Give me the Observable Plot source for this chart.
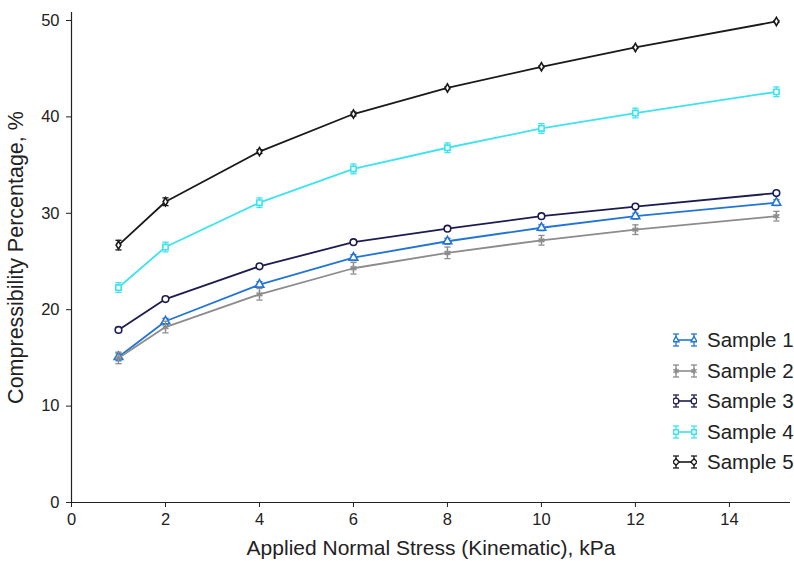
<!DOCTYPE html>
<html>
<head>
<meta charset="utf-8">
<script src="https://cdn.jsdelivr.net/npm/d3@7"></script>
<script src="https://cdn.jsdelivr.net/npm/@observablehq/plot@0.6"></script>
<style>
  html, body { margin: 0; padding: 0; background: #fff; }
  #wrap { position: relative; width: 794px; height: 561px; font-family: "Liberation Sans", Arial, sans-serif; overflow: hidden; }
  #legend { position: absolute; left: 673px; top: 325px; }
  .item { display: flex; align-items: center; height: 30.5px; font-size: 20.5px; color: #222; white-space: nowrap; }
  .item svg { margin-right: 10px; }
</style>
</head>
<body>
<div id="wrap"><div id="legend"></div></div>
<script>
const stress = [1, 2, 4, 6, 8, 10, 12, 15];
const seriesNames = ["Sample 1", "Sample 2", "Sample 3", "Sample 4", "Sample 5"];
const sample1 = [15.1, 18.8, 22.6, 25.4, 27.1, 28.5, 29.7, 31.1];
const sample2 = [15.0, 18.2, 21.6, 24.3, 25.9, 27.2, 28.3, 29.7];
const sample3 = [17.9, 21.1, 24.5, 27.0, 28.4, 29.7, 30.7, 32.1];
const sample4 = [22.3, 26.5, 31.1, 34.6, 36.8, 38.8, 40.4, 42.6];
const sample5 = [26.7, 31.2, 36.4, 40.3, 43.0, 45.2, 47.2, 49.9];
const err1 = [0.4, 0.3, 0.3, 0.3, 0.3, 0.3, 0.3, 0.3];
const err2 = [0.6, 0.6, 0.6, 0.6, 0.6, 0.5, 0.5, 0.5];
const err3 = [0.1, 0.1, 0.1, 0.1, 0.1, 0.1, 0.1, 0.1];
const err4 = [0.5, 0.5, 0.5, 0.5, 0.5, 0.5, 0.5, 0.5];
const err5 = [0.5, 0.4, 0.2, 0.2, 0.1, 0.1, 0.1, 0.1];
const xTicks = [0, 2, 4, 6, 8, 10, 12, 14];
const yTicks = [0, 10, 20, 30, 40, 50];
const colors = ["#2274d6", "#8c8c8c", "#1c1c50", "#3de3ef", "#1a1a1a"];
const symbols = ["triangle", "asterisk", "circle", "square", "diamond"];
const markerR = [3.2, 3.2, 3.3, 3.0, 2.5];

const values = [sample1, sample2, sample3, sample4, sample5];
const errs = [err1, err2, err3, err4, err5];
const rows = [];
seriesNames.forEach((s, i) => stress.forEach((x, j) => rows.push({series: s, x, y: values[i][j], e: errs[i][j]})));

const cap = {draw(ctx, size) { const r = Math.sqrt(size) / 2; ctx.moveTo(-r, 0); ctx.lineTo(r, 0); }};
const colorScale = {domain: seriesNames, range: colors};
const symbolScale = {domain: seriesNames, range: symbols};

const marks = [
  Plot.ruleX([0], {stroke: "#222", strokeWidth: 1.2}),
  Plot.ruleY([0], {stroke: "#222", strokeWidth: 1.2}),
];
seriesNames.forEach((s, i) => {
  const d = rows.filter(r => r.series === s);
  marks.push(
    Plot.line(d, {x: "x", y: "y", stroke: "series", strokeWidth: 1.8}),
    Plot.ruleX(d, {x: "x", y1: r => r.y - r.e, y2: r => r.y + r.e, stroke: "series", strokeWidth: 1.3}),
    Plot.dot(d, {x: "x", y: r => r.y + r.e, symbol: () => cap, r: 3.5, stroke: "series", strokeWidth: 1.3}),
    Plot.dot(d, {x: "x", y: r => r.y - r.e, symbol: () => cap, r: 3.5, stroke: "series", strokeWidth: 1.3}),
    Plot.dot(d, {x: "x", y: "y", symbol: "series", r: markerR[i], stroke: "series", fill: "white", strokeWidth: 1.6})
  );
});

const chart = Plot.plot({
  width: 794,
  height: 561,
  marginLeft: 71,
  marginRight: 4,
  marginTop: 12,
  marginBottom: 59,
  style: {fontFamily: "Liberation Sans, Arial, sans-serif", fontSize: "16.5px", color: "#222", background: "white"},
  x: {domain: [0, 15.3], ticks: xTicks, tickSize: 5, tickPadding: 6, label: "Applied Normal Stress (Kinematic), kPa", labelAnchor: "center", labelOffset: 52, labelArrow: "none"},
  y: {domain: [0, 50.83], ticks: yTicks, tickSize: 5, tickPadding: 7, label: "Compressibility Percentage, %", labelAnchor: "center", labelOffset: 64, labelArrow: "none"},
  color: colorScale,
  symbol: symbolScale,
  marks
});
chart.querySelectorAll('[aria-label="x-axis label"]').forEach(g => g.setAttribute("font-size", "21px"));
chart.querySelectorAll('[aria-label="y-axis label"]').forEach(g => g.setAttribute("font-size", "21.5px"));
document.getElementById("wrap").prepend(chart);

// Legend
const legend = d3.select("#legend");
const symTypes = {triangle: d3.symbolTriangle2, asterisk: d3.symbolAsterisk, circle: d3.symbolCircle, square: d3.symbolSquare2, diamond: d3.symbolDiamond2};
seriesNames.forEach((s, i) => {
  const item = legend.append("div").attr("class", "item");
  const svg = item.append("svg").attr("width", 24).attr("height", 18);
  const c = colors[i];
  svg.append("line").attr("x1", 3).attr("x2", 21).attr("y1", 9).attr("y2", 9).attr("stroke", c).attr("stroke-width", 1.6);
  [3, 21].forEach(x => {
    svg.append("line").attr("x1", x).attr("x2", x).attr("y1", 3).attr("y2", 15).attr("stroke", c).attr("stroke-width", 1.3);
    svg.append("line").attr("x1", x - 3).attr("x2", x + 3).attr("y1", 3).attr("y2", 3).attr("stroke", c).attr("stroke-width", 1.3);
    svg.append("line").attr("x1", x - 3).attr("x2", x + 3).attr("y1", 15).attr("y2", 15).attr("stroke", c).attr("stroke-width", 1.3);
    svg.append("path").attr("transform", `translate(${x},9)`).attr("d", d3.symbol(symTypes[symbols[i]], 26)()).attr("fill", "white").attr("stroke", c).attr("stroke-width", 1.4);
  });
  item.append("span").text(s);
});
</script>
</body>
</html>
